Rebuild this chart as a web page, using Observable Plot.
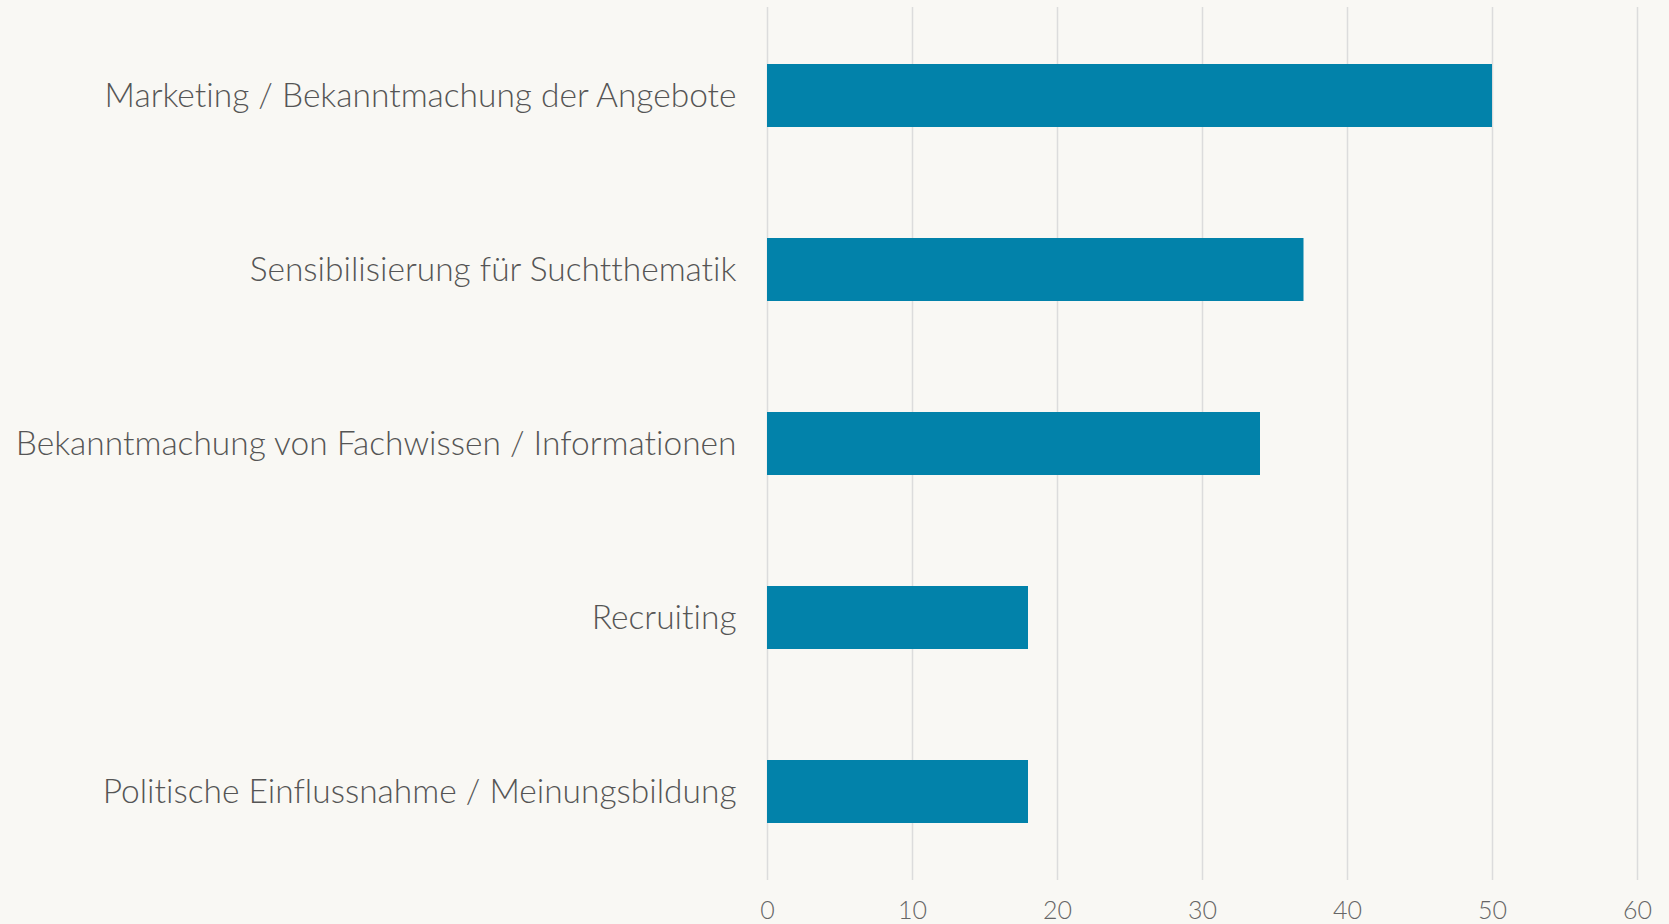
<!DOCTYPE html>
<html>
<head>
<meta charset="utf-8">
<script src="https://cdn.jsdelivr.net/npm/d3@7"></script>
<script src="https://cdn.jsdelivr.net/npm/@observablehq/plot@0.6"></script>
<style>
  html, body { margin: 0; padding: 0; background: #f9f8f4; }
  #chart svg { display: block; font-variant-ligatures: none; }
</style>
</head>
<body>
<div id="chart"></div>
<script>
const categories = [
  "Marketing / Bekanntmachung der Angebote",
  "Sensibilisierung für Suchtthematik",
  "Bekanntmachung von Fachwissen / Informationen",
  "Recruiting",
  "Politische Einflussnahme / Meinungsbildung"
];
const values = [50, 37, 34, 18, 18];
const xTicks = [0, 10, 20, 30, 40, 50, 60];

const data = categories.map((c, i) => ({category: c, value: values[i]}));

const chart = Plot.plot({
  width: 1669,
  height: 924,
  marginLeft: 767,
  marginRight: 32,
  marginTop: 7,
  marginBottom: 44,
  style: {background: "#f9f8f4", fontFamily: "Lato, 'Open Sans', sans-serif", fontWeight: 300},
  x: {domain: [0, 60], ticks: xTicks},
  y: {domain: categories, paddingInner: 0.64, paddingOuter: 0.32, label: null},
  marks: [
    Plot.gridX(xTicks, {stroke: "#dcdcdc", strokeOpacity: 1, strokeWidth: 1.5}),
    Plot.barX(data, {x: "value", y: "category", fill: "#0282aa"}),
    Plot.axisY({tickSize: 0, tickPadding: 31, fontSize: 33.5, color: "#555", label: null}),
    Plot.axisX({ticks: xTicks, tickSize: 0, tickPadding: 21, fontSize: 25, color: "#666", label: null})
  ]
});
document.getElementById("chart").appendChild(chart);
</script>
</body>
</html>
